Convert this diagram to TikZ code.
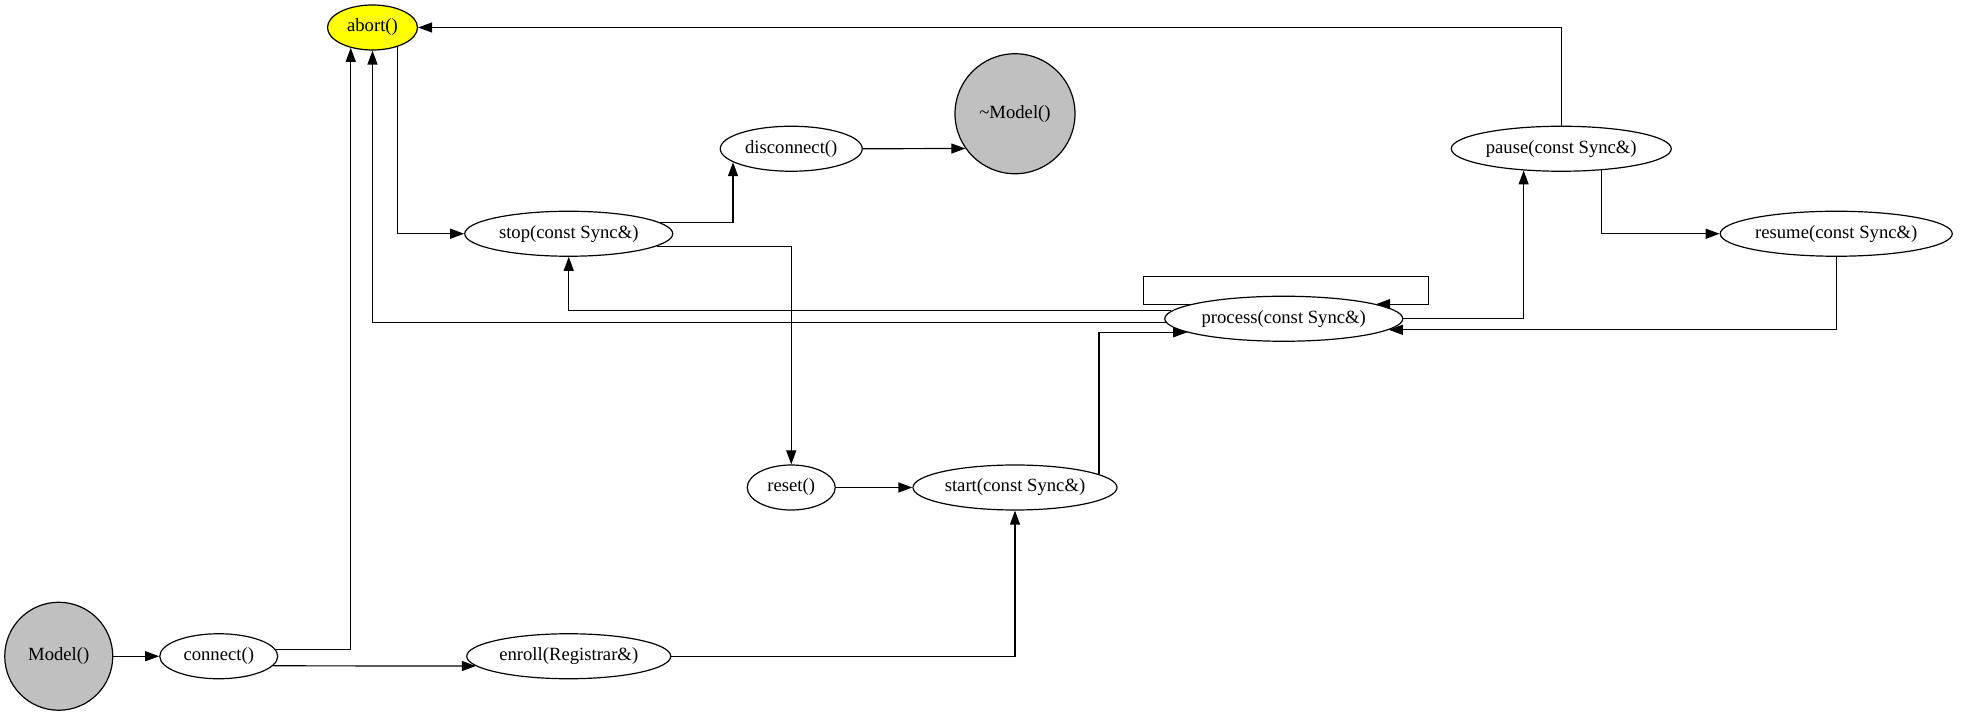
\documentclass[tikz,border=0pt]{standalone}
\usepackage{fontspec}
\setmainfont{Liberation Serif}
\usetikzlibrary{shapes.geometric,arrows.meta}
\definecolor{ctorgray}{HTML}{C0C0C0}
\definecolor{abortyellow}{HTML}{FFFF00}
\begin{document}
\begin{tikzpicture}[x=0.75pt, y=-0.75pt, >={Triangle[length=10.5pt,width=7.5pt]},
        fn/.style={ellipse, draw, line width=0.9pt, inner sep=0pt, minimum height=33.75pt, font=\fontsize{14}{16}\selectfont},
        life/.style={circle, draw, line width=0.9pt, fill=ctorgray, inner sep=0pt, font=\fontsize{14}{16}\selectfont},
        call/.style={->, line width=0.9pt}]
    \useasboundingbox (0,0) rectangle (1961,716);
    % life cycle ends
    \node[life, minimum size=81pt] (model) at (58.75,656.25) {Model()};
    \node[life, minimum size=90pt] (dtor) at (1015,113.75) {\textasciitilde Model()};
    \node[fn, fill=abortyellow, minimum width=67.5pt] (abort) at (372.5,27.5) {abort()};
    \foreach \nm/\x/\y/\w/\lbl in {connect/218.75/656.25/88.5/connect(),
            enroll/568.75/656.25/153/enroll(Registrar\&),
            stop/568.75/233.75/156/stop(const Sync\&),
            disconnect/791.25/148.75/106.5/disconnect(),
            reset/791.25/487.5/66/reset(),
            start/1015/487.5/153/start(const Sync\&),
            process/1283.75/318.75/178.5/process(const Sync\&),
            pause/1561.25/148.75/165/pause(const Sync\&),
            resume/1836.25/233.75/174/resume(const Sync\&)}
        {
            \node[fn, minimum width=\w pt] (\nm) at (\x,\y) {\lbl};
        }
    \coordinate (loopnw) at (1143.75,276.25);
    \coordinate (loopne) at (1428.75,276.25);
    % transitions
    \draw[call] (model) -- (connect);
    \draw[call] (connect.7.1) -| (abort.223);
    \draw[call] (connect.-10.7) -- (enroll.186.4);
    \draw[call] (enroll.east) -| (start.south);
    \draw[call] (abort.-38.8) |- (stop.west);
    \draw[call] (stop.7.1) -| (disconnect.193);
    \draw[call] (disconnect.east) -- (dtor.215.7);
    \draw[call] (stop.-8.2) -| (reset.north);
    \draw[call] (reset) -- (start);
    \draw[call] (start.9.6) |- (process.188.3);
    \draw[call] (process.176.9) -| (stop.south);
    \draw[call] (process.182.5) -| (abort.south);
    \draw[call] (process.171) -| (loopnw) -| (process.9 -| loopne) -- (process.9);
    \draw[call] (process.east) -| (pause.210.4);
    \draw[call] (pause.north) |- (abort.east);
    \draw[call] (pause.-28.5) |- (resume.west);
    \draw[call] (resume.south) |- (process.-6.2);
\end{tikzpicture}
\end{document}
